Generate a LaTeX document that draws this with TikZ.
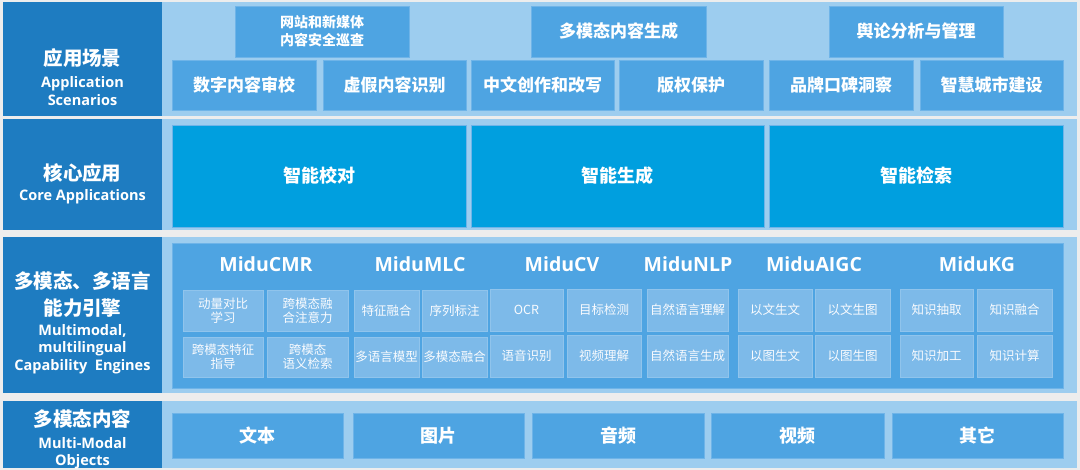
\documentclass[tikz,border=0pt]{standalone}
\usepackage{fontspec}
\setmainfont{Noto Sans CJK SC}
\newfontfamily\latinb{Open Sans}
\definecolor{bgc}{HTML}{EDEDED}
\definecolor{dblue}{HTML}{1E7CC1}
\definecolor{pblue}{HTML}{9DCDEF}
\definecolor{mblue}{HTML}{4EA4E2}
\definecolor{cblue}{HTML}{009FDF}
\definecolor{sblue}{HTML}{7DBAE9}
\definecolor{edgeb}{HTML}{6FB4E8}
\newcommand\fs[2]{\fontsize{#1}{#2}\selectfont}
\newcommand\bx[7]{\node[#2, minimum width={(#5-#3)*1pt}, minimum height={(#6-#4)*1pt}] (#1) at ({(#3+#5)/2},{(#4+#6)/2}) {#7};}
\tikzset{
  base/.style={inner sep=0pt, outer sep=0pt, align=center, text=white},
  lab/.style={base, fill=dblue},
  labtext/.style={base, font=\bfseries\fs{14.5}{18}},
  panel/.style={base, fill=pblue},
  mbox/.style={base, fill=mblue, draw=edgeb, line width=0.8pt, font=\bfseries\fs{17}{20}},
  cbox/.style={base, fill=cblue, draw=edgeb, line width=0.8pt, font=\bfseries\fs{18}{22}},
  sbox/.style={base, fill=sblue, draw=sblue!85!white, line width=0.6pt, text=white!95!sblue, font=\fs{12.5}{14}},
  ttl/.style={base, font=\latinb\bfseries\fs{19.5}{22}}
}
\begin{document}
\begin{tikzpicture}[x=1pt,y=-1pt]
\fill[bgc] (0,0) rectangle (1080,470);
\useasboundingbox (0,0) rectangle (1080,470);
% ---- row 1
\bx{L1}{lab}{3}{2}{162}{116}{}
\node[labtext] (L1t) at (82.5,77.5) {\fs{19.5}{23}应用场景\\[4pt]\latinb Application\\\latinb Scenarios};
\bx{P1}{panel}{162}{2}{1077}{116}{}
\bx{T1}{mbox, font=\bfseries\fs{14}{18}}{235}{6}{409}{57}{网站和新媒体\\内容安全巡查}
\bx{T2}{mbox}{531}{6}{706}{57}{多模态内容生成}
\bx{T3}{mbox}{829}{6}{1003}{57}{舆论分析与管理}
\bx{S1}{mbox}{172}{60}{316}{110}{数字内容审校}
\bx{S2}{mbox}{323}{60}{466}{110}{虚假内容识别}
\bx{S3}{mbox}{471}{60}{614}{110}{中文创作和改写}
\bx{S4}{mbox}{619}{60}{763}{110}{版权保护}
\bx{S5}{mbox}{769}{60}{913}{110}{品牌口碑洞察}
\bx{S6}{mbox}{920}{60}{1063}{110}{智慧城市建设}
% ---- row 2
\bx{L2}{lab}{3}{119}{162}{230}{}
\node[labtext] (L2t) at (82.5,183.5) {\fs{19.5}{23}核心应用\\[2pt]\latinb Core Applications};
\bx{P2}{panel}{162}{119}{1077}{230}{}
\bx{C1}{cbox}{172}{125}{466}{227}{智能校对}
\bx{C2}{cbox}{471}{125}{764}{227}{智能生成}
\bx{C3}{cbox}{769}{125}{1063}{227}{智能检索}
% ---- row 3
\bx{L3}{lab}{3}{237}{162}{393}{}
\node[labtext, font=\bfseries\fs{14.5}{17.5}] (L3t) at (82.5,322.5) {\fs{19.5}{23}多模态、多语言\\[8pt]\fs{19.5}{23}能力引擎\\[2pt]\latinb Multimodal,\\\latinb multilingual\\\latinb Capability\ \ Engines};
\bx{P3}{panel}{162}{237}{1077}{393}{}
\bx{E}{base, fill=mblue, draw=edgeb, line width=0.8pt}{172}{243}{1063}{388}{}
\node[ttl] (tCMR) at (266,264) {MiduCMR};
\node[ttl] (tMLC) at (420,264) {MiduMLC};
\node[ttl] (tCV) at (562,264) {MiduCV};
\node[ttl] (tNLP) at (688,264) {MiduNLP};
\node[ttl] (tAIGC) at (814,264) {MiduAIGC};
\node[ttl] (tKG) at (977,264) {MiduKG};
% CMR
\bx{a1}{sbox}{183}{290}{263}{331}{动量对比\\学习}
\bx{a2}{sbox}{267}{290}{348}{331}{跨模态融\\合注意力}
\bx{a3}{sbox}{183}{337}{263}{377}{跨模态特征\\指导}
\bx{a4}{sbox}{267}{337}{348}{377}{跨模态\\语义检索}
% MLC
\bx{b1}{sbox}{354}{290}{419}{331}{特征融合}
\bx{b2}{sbox}{422}{290}{487}{331}{序列标注}
\bx{b3}{sbox}{354}{337}{419}{377}{多语言模型}
\bx{b4}{sbox}{422}{337}{487}{377}{多模态融合}
% CV
\bx{c1}{sbox}{490}{289}{563}{331}{OCR}
\bx{c2}{sbox}{567}{289}{641}{331}{目标检测}
\bx{c3}{sbox}{490}{335}{563}{377}{语音识别}
\bx{c4}{sbox}{567}{335}{641}{377}{视频理解}
% NLP
\bx{d1}{sbox}{647}{289}{728}{331}{自然语言理解}
\bx{d2}{sbox}{647}{335}{728}{377}{自然语言生成}
% AIGC
\bx{e1}{sbox}{738}{289}{812}{331}{以文生文}
\bx{e2}{sbox}{815}{289}{890}{331}{以文生图}
\bx{e3}{sbox}{738}{335}{812}{377}{以图生文}
\bx{e4}{sbox}{815}{335}{890}{377}{以图生图}
% KG
\bx{f1}{sbox}{900}{289}{973}{331}{知识抽取}
\bx{f2}{sbox}{977}{289}{1052}{331}{知识融合}
\bx{f3}{sbox}{900}{335}{973}{377}{知识加工}
\bx{f4}{sbox}{977}{335}{1052}{377}{知识计算}
% ---- row 4
\bx{L4}{lab}{3}{401}{162}{468}{}
\node[labtext, font=\bfseries\fs{14.5}{17}] (L4t) at (82.5,439) {\fs{19.5}{23}多模态内容\\[5pt]\latinb Multi-Modal\\\latinb Objects};
\bx{P4}{panel}{162}{401}{1077}{468}{}
\bx{B1}{mbox, font=\bfseries\fs{18}{22}}{172}{413}{343}{458}{文本}
\bx{B2}{mbox, font=\bfseries\fs{18}{22}}{353}{413}{524}{458}{图片}
\bx{B3}{mbox, font=\bfseries\fs{18}{22}}{532}{413}{704}{458}{音频}
\bx{B4}{mbox, font=\bfseries\fs{18}{22}}{711}{413}{884}{458}{视频}
\bx{B5}{mbox, font=\bfseries\fs{18}{22}}{892}{413}{1063}{458}{其它}
\end{tikzpicture}
\end{document}
